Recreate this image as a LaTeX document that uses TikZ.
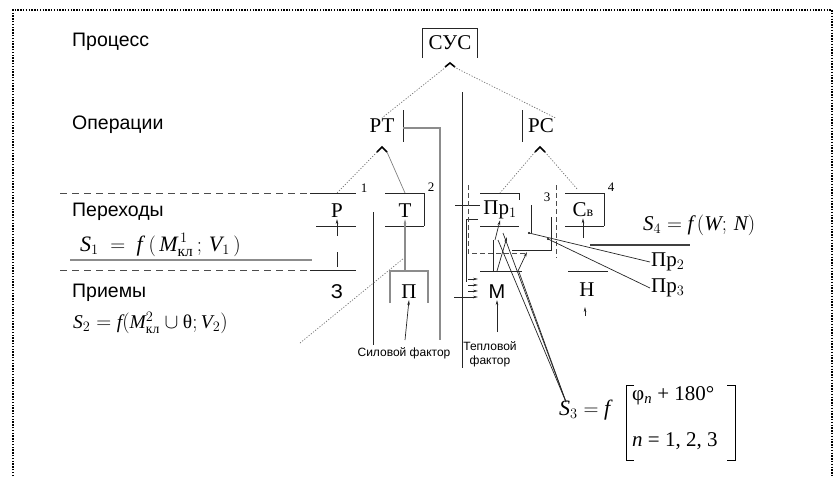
\documentclass[tikz,border=0pt]{standalone}
\usepackage{fontspec}
\usepackage{amsmath}
\setmainfont{Liberation Serif}
\newfontfamily\lsans{Liberation Sans}
\newfontfamily\lserif{Liberation Serif}
\newcommand{\mi}[1]{\text{\lserif\itshape #1}}
\newcommand{\mup}[1]{\text{\lserif\upshape #1}}
\usetikzlibrary{arrows.meta}
\begin{document}
\begin{tikzpicture}[x=1pt,y=-1pt,
  lab/.style={font=\lsans\fontsize{19.5}{22}\selectfont,anchor=west,inner sep=0pt},
  ser/.style={font=\lserif\fontsize{21}{24}\selectfont,inner sep=1pt},
  sansbig/.style={font=\lsans\fontsize{20}{24}\selectfont,inner sep=1pt},
  small/.style={font=\lsans\fontsize{12}{14}\selectfont,inner sep=0pt},
  num/.style={font=\lserif\fontsize{13}{14}\selectfont,inner sep=0pt},
  formula/.style={font=\lserif\fontsize{22}{26}\selectfont,anchor=west,inner sep=0pt},
  ln/.style={line width=0.7pt,black!85},
  gln/.style={line width=1.1pt,black!45},
  dln/.style={line width=0.7pt,black!70,dash pattern=on 7pt off 5pt},
  dtl/.style={line width=0.7pt,black!55,dash pattern=on 1.2pt off 1.6pt},
  arr/.style={-{Stealth[length=5pt,width=2.6pt]}},
  caret/.style={line width=1.6pt,black}
]
\useasboundingbox (0,0) rectangle (839,477);
% border
\draw[line width=1.6pt,dash pattern=on 1.4pt off 1.4pt] (13,490) -- (13,10) -- (832,10) -- (832,490);

% left labels
\node[lab] (proc) at (72,42) {Процесс};
\node[lab] (oper) at (72,125) {Операции};
\node[lab] (per) at (72,212) {Переходы};
\node[lab] (pri) at (72,293) {Приемы};
\node[formula] (s1) at (80,245) {$\mi{S}_1\;=\;\mi{f}\;(\,\mi{M}^{\,1}_{\text{кл}}\,;\,\mi{V}_1\,)$};
\node[formula,font=\lserif\fontsize{19.5}{24}\selectfont] (s2) at (73,323) {$\mi{S}_2 = \mi{f}(\mi{M}^2_{\text{кл}}\cup\mup{θ};\mi{V}_2)$};

% top node
\node[ser] (sus) at (450,43) {СУС};
\draw[ln] (422,58) -- (422,28) -- (477,28) -- (477,58);
\coordinate (c0) at (450,63);
\draw[caret] (445,67) -- (c0) -- (455,67);

% operations
\node[ser] (rt) at (382,126) {РТ};
\node[ser] (rc) at (541,126) {РС};
\draw[dtl] (446,67) -- (rt.north);
\draw[dtl] (454,67) -- (rc.north east);
\coordinate (c1) at (382,147);
\coordinate (c2) at (540,147);
\draw[caret] (377,152) -- (c1) -- (387,152);
\draw[caret] (535,152) -- (c2) -- (545,152);
\draw[ln] (403,110) -- (403,142);
\draw[gln] (403,128) -- (440,128) -- (440,340);
\draw[ln] (522,110) -- (522,142);

% transitions
\node[ser] (r) at (337,211) {Р};
\node[ser] (t) at (405,211) {Т};
\node[ser] (pr1) at (500,210) {Пр$_1$};
\node[ser] (cv) at (583,210) {С{\fontsize{14}{14}\selectfont в}};
\node[num] (n1) at (364,188) {1};
\node[num] (n2) at (431,187) {2};
\node[num] (n3) at (547,197) {3};
\node[num] (n4) at (611,187) {4};

\draw[dtl] (377,152) -- (337,193);
\draw[ln,black!50] (387,152) -- (405,193);
\draw[dtl] (535,152) -- (500,193);
\draw[dtl] (545,152) -- (578,190);

\draw[dln] (60,193) -- (310,193);
\draw[ln] (310,193) -- (356,193);
\draw[ln] (316,226) -- (356,226);
\draw[ln] (385,193) -- (424,193) -- (424,226);
\draw[ln] (385,226) -- (424,226);
\draw[ln] (480,193) -- (519,193) -- (519,200);
\draw[ln] (480,226) -- (519,226);
\draw[ln] (565,193) -- (604,193) -- (604,226);
\draw[ln] (565,226) -- (604,226);

% S1 / S4 underlines
\draw[gln] (70,260) -- (312,260);
\node[formula,font=\lserif\fontsize{21}{24}\selectfont] (s4) at (643,225) {$\mi{S}_4 = \mi{f}\,(\mi{W};\,\mi{N})$};
\draw[line width=1.2pt,black!75] (590,245) -- (690,245);

% receptions line
\draw[dln] (60,270) -- (310,270);
\draw[ln] (310,270) -- (356,270);

% techniques
\node[sansbig] (z) at (337,292) {З};
\node[ser] (p) at (409,292) {П};
\node[sansbig] (m) at (497,292) {М};
\node[ser] (h) at (587,290) {Н};
\draw[gln] (390,303) -- (390,271) -- (428,271) -- (428,303);
\draw[ln] (480,271) -- (522,271);
\draw[ln] (568,271) -- (608,271);

% arrows into transitions
\draw[ln,arr] (337,236) -- (r.south);
\draw[ln] (337,252) -- (337,267);
\draw[gln,arr] (405,271) -- (t.south);
\draw[ln,arr] (405,340) -- (p.south);
\draw[ln,arr] (495,240) -- (pr1.south);
\draw[ln,arr] (583,238) -- (cv.south);
\coordinate (hs) at (585,316);
\draw[ln,arr] (hs) -- (585,307);
\draw[ln,arr] (497,332) -- (m.south);

% long verticals
\draw[ln] (373,212) -- (373,345);
\draw[ln] (462,92) -- (462,368);
\draw[dtl] (300,343) -- (404,258);

% Pr1 surroundings
\draw[ln] (455,205) -- (480,205);
\draw[ln] (478,219) -- (466,219) -- (466,282);
\draw[dln,dash pattern=on 5pt off 3pt] (468,185) -- (468,253) -- (525,253);
\draw[dln,dash pattern=on 5pt off 3pt] (556,185) -- (556,258);
\draw[ln] (531,205) -- (531,233);
\draw[ln] (551,217) -- (551,250) -- (512,250);
\draw[ln] (493,240) -- (493,271);
\draw[ln,arr] (497,271) -- (507,237);
\draw[ln,arr] (518,271) -- (527,252);

% M left arrows
\draw[ln,arr] (468,279) -- (478,279);
\draw[ln,arr] (468,285) -- (478,285);
\draw[ln,arr] (468,291) -- (478,291);
\draw[ln,arr] (454,297) -- (478,297);

% Pr2, Pr3
\node[ser,anchor=west] (pr2) at (650,262) {Пр$_2$};
\node[ser,anchor=west] (pr3) at (650,288) {Пр$_3$};
\fill (529,233) circle (1.2pt);
\fill (548,239) circle (1.2pt);
\draw[ln] (529,233) -- (pr2.west);
\draw[ln] (548,239) -- (pr3.west);

% factor labels
\node[small] (sil) at (404,353) {Силовой фактор};
\node[small,align=center] (tep) at (490,354) {Тепловой\\фактор};

% S3
\node[formula] (s3) at (559,410) {$\mi{S}_3 = \mi{f}$};
\coordinate (s3tip) at (566,402);
\draw[ln] (498,240) -- (s3tip);
\draw[ln] (503,233) -- (s3tip);
\draw[ln] (519,272) -- (s3tip);
\draw[line width=1pt] (634,385) -- (626,385) -- (626,460) -- (634,460);
\draw[line width=1pt] (727,385) -- (735,385) -- (735,460) -- (727,460);
\node[font=\lserif\fontsize{21}{24}\selectfont,anchor=west,inner sep=0pt] (phi) at (632,396) {φ\textsubscript{\textit{n}} + 180°};
\node[font=\lserif\fontsize{21}{24}\selectfont,anchor=west,inner sep=0pt] (nn) at (632,441) {\textit{n} = 1, 2, 3};
\end{tikzpicture}
\end{document}
